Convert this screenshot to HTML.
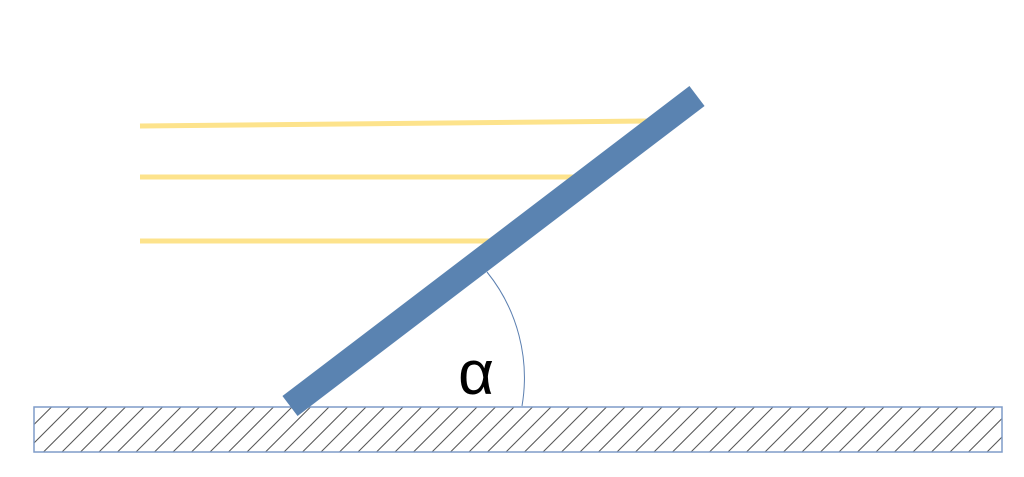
<!DOCTYPE html>
<html><head><style>html,body{margin:0;padding:0;background:#fff;}</style></head>
<body>
<svg width="1024" height="472" xmlns="http://www.w3.org/2000/svg">
<defs>
<pattern id="h" patternUnits="userSpaceOnUse" width="18.5" height="46" x="34" y="406">
<line x1="-9" y1="46" x2="37" y2="0" stroke="#555" stroke-width="1"/>
<line x1="-27.5" y1="46" x2="18.5" y2="0" stroke="#555" stroke-width="1"/>
<line x1="9.5" y1="46" x2="55.5" y2="0" stroke="#555" stroke-width="1"/>
</pattern>
</defs>
<rect x="34" y="407" width="968" height="45" fill="url(#h)" stroke="#7f9cc8" stroke-width="1.5"/>
<line x1="140" y1="126" x2="650" y2="121" stroke="#fde38c" stroke-width="5"/>
<line x1="140" y1="177" x2="575" y2="177" stroke="#fde38c" stroke-width="5"/>
<line x1="140" y1="241" x2="495" y2="241" stroke="#fde38c" stroke-width="5"/>
<path d="M487,272 A168,168 0 0 1 522,406" fill="none" stroke="#5b7fb0" stroke-width="1"/>
<line x1="290" y1="406" x2="697" y2="96" stroke="#5a83b1" stroke-width="25"/>
<text x="476" y="394" font-family="Liberation Sans, DejaVu Sans, sans-serif" font-size="62" text-anchor="middle" fill="#000">α</text>
</svg>
</body></html>
